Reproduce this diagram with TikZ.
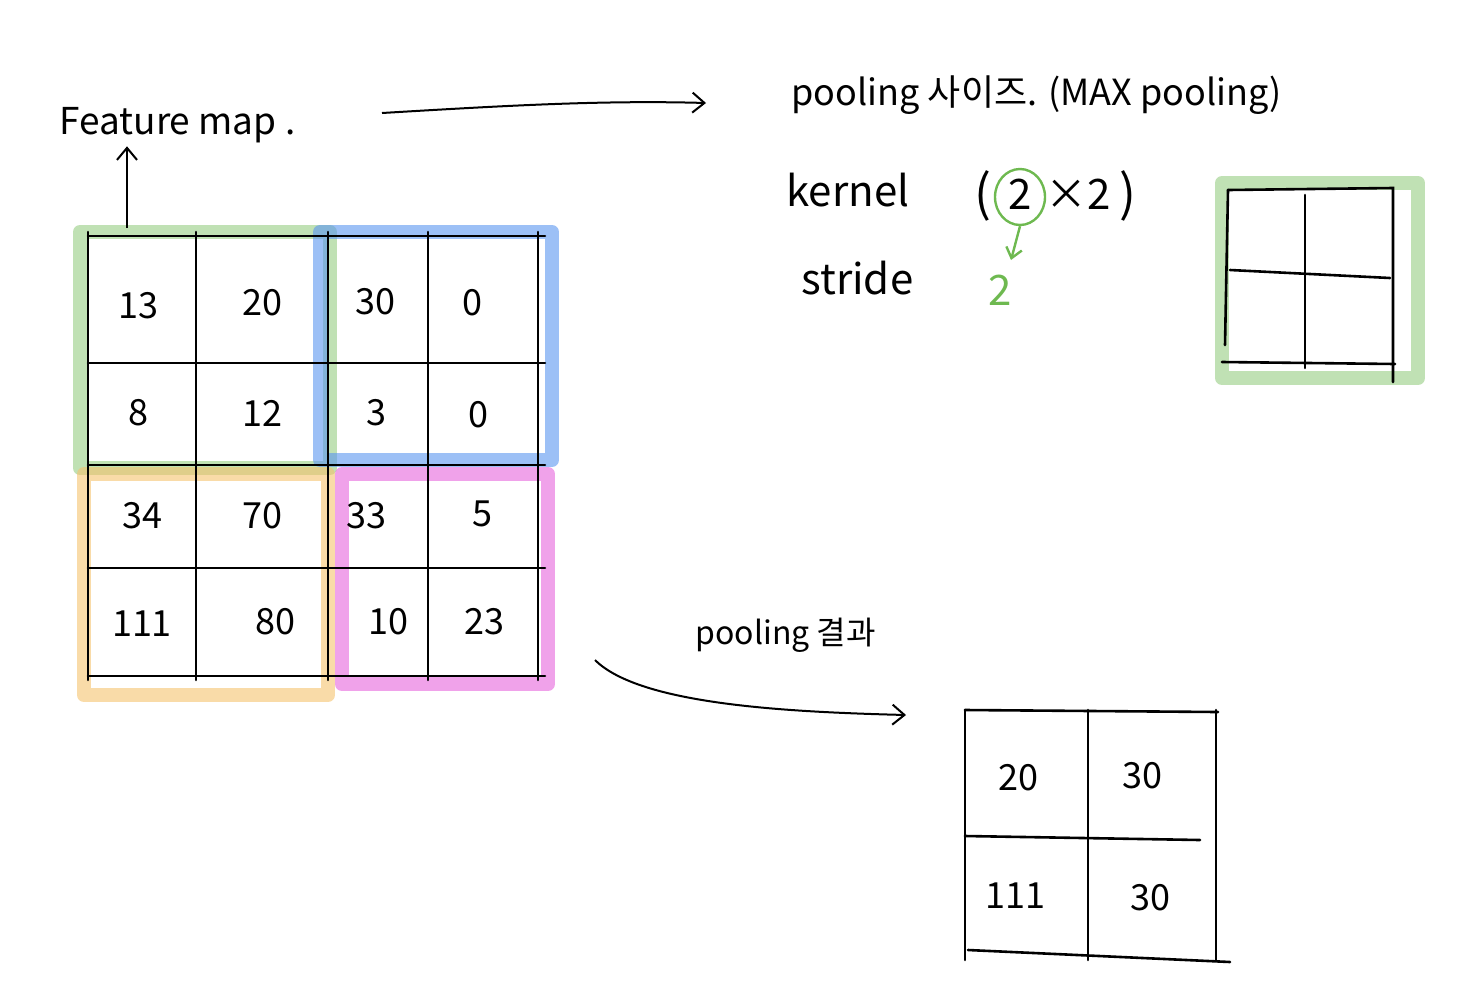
\documentclass[tikz,border=0pt]{standalone}
\usepackage{fontspec}
\setmainfont{Noto Sans CJK KR}
\usetikzlibrary{arrows.meta,shapes.geometric}
\definecolor{hlgreen}{RGB}{150,205,130}
\definecolor{hlblue}{RGB}{90,150,240}
\definecolor{hlorange}{RGB}{245,195,110}
\definecolor{hlpink}{RGB}{230,100,220}
\definecolor{pengreen}{RGB}{110,185,80}
\begin{document}
\begin{tikzpicture}[x=1pt,y=-1pt,
  hl/.style={line width=14pt, line join=round, line cap=round, opacity=0.6},
  gridline/.style={line width=2.6pt, line cap=round, black},
  num/.style={font=\fontsize{36}{40}\selectfont},
  lbl/.style={font=\fontsize{34}{40}\selectfont, anchor=west},
  big/.style={font=\fontsize{42}{48}\selectfont},
  arr/.style={line width=2pt, -{Straight Barb[length=12pt,width=20pt]}},
  garr/.style={line width=2.4pt, pengreen, -{Straight Barb[length=10pt,width=16pt]}}]
\useasboundingbox (0,0) rectangle (1480,1002);
% highlights
\draw[hl, hlgreen] (80,232) rectangle (330,468);
\draw[hl, hlblue] (320,232) rectangle (552,460);
\draw[hl, hlorange] (84,474) rectangle (328,695);
\draw[hl, hlpink] (342,474) rectangle (548,684);
% main grid
\foreach \x in {88,196,328,428,538} \draw[gridline] (\x,232) -- (\x,680);
\foreach \y in {236,363,465,568,676} \draw[gridline] (88,\y) -- (545,\y);
% numbers
\node[num] (c11) at (138,306) {13};
\node[num] (c12) at (262,303) {20};
\node[num] (c13) at (375,302) {30};
\node[num] (c14) at (472,303) {0};
\node[num] (c21) at (138,413) {8};
\node[num] (c22) at (262,413) {12};
\node[num] (c23) at (376,413) {3};
\node[num] (c24) at (478,415) {0};
\node[num] (c31) at (142,516) {34};
\node[num] (c32) at (262,516) {70};
\node[num] (c33) at (366,516) {33};
\node[num] (c34) at (482,514) {5};
\node[num] (c41) at (142,624) {111};
\node[num] (c42) at (275,622) {80};
\node[num] (c43) at (388,622) {10};
\node[num] (c44) at (484,622) {23};
% labels
\node[lbl, font=\fontsize{37}{42}\selectfont] (fm) at (56,125) {Feature map .};
\coordinate (fmup) at (127,228);
\draw[arr] (fmup) -- (fm.south -| fmup);
\node[lbl, font=\fontsize{36}{42}\selectfont] (ps) at (788,95) {pooling 사이즈. (MAX pooling)};
\node[lbl, big] (ker) at (783,190) {kernel};
\node[big, font=\fontsize{50}{56}\selectfont] (kopen) at (983,196) {(};
\node[big] (k2a) at (1020,194) {2};
\node[big] (kx) at (1078,194) {×2};
\node[big, font=\fontsize{50}{56}\selectfont] (kclose) at (1128,196) {)};
\node[lbl, big] (str) at (798,278) {stride};
\node[big, text=pengreen] (sval) at (1000,290) {2};
\node[draw=pengreen, line width=2.4pt, ellipse, minimum width=50pt, minimum height=56pt, inner sep=0pt] (kc) at (1020,197) {};
\coordinate (karr) at (1011,260);
\draw[garr] (kc.south) -- (karr);
% top arrow
\coordinate (ta1) at (382,113);
\coordinate (ta2) at (706,103);
\draw[arr] (ta1) .. controls (500,106) and (600,100) .. (ta2);
% kernel grid
\draw[hl, hlgreen] (1222,183) rectangle (1418,378);
\draw[gridline] (1228,190) -- (1393,188) -- (1393,382);
\draw[gridline] (1228,190) -- (1225,345);
\draw[gridline] (1222,362) -- (1395,364);
\draw[gridline] (1305,195) -- (1305,368);
\draw[gridline] (1230,270) -- (1390,278);
% bottom arrow
\node[lbl, font=\fontsize{32}{38}\selectfont] (pr) at (692,635) {pooling 결과};
\coordinate (ba1) at (595,660);
\coordinate (ba2) at (906,715);
\draw[arr] (ba1) .. controls (640,705) and (790,712) .. (ba2);
% result grid
\foreach \x in {965,1088,1216} \draw[gridline] (\x,710) -- (\x,960);
\draw[gridline] (965,710) -- (1218,712);
\draw[gridline] (965,836) -- (1200,840);
\draw[gridline] (968,950) -- (1230,962);
\node[num] (r11) at (1018,778) {20};
\node[num] (r12) at (1142,776) {30};
\node[num] (r21) at (1015,896) {111};
\node[num] (r22) at (1150,898) {30};
\end{tikzpicture}
\end{document}
